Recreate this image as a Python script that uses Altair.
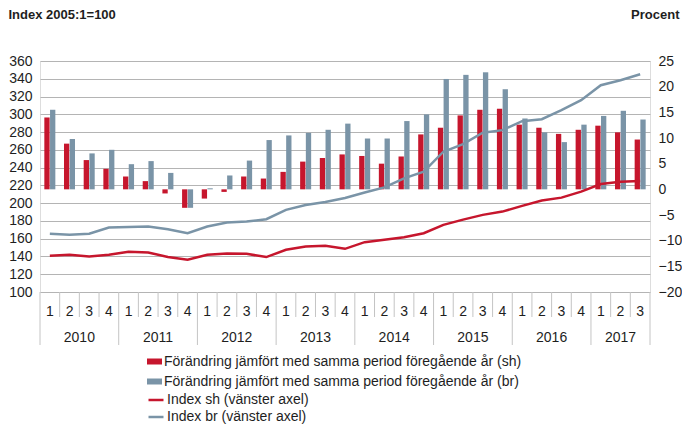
import altair as alt
import pandas as pd

# ---------------- data ----------------
years = ["2010", "2011", "2012", "2013", "2014", "2015", "2016", "2017"]
quarters_per_year = [4, 4, 4, 4, 4, 4, 4, 3]
quarter_labels = ["1", "2", "3", "4"] * 7 + ["1", "2", "3"]

# percent change vs same period previous year (right axis)
sh_change = [14.0, 8.9, 5.7, 4.0, 2.5, 1.6, -0.8, -3.6, -1.8, -0.5, 2.5, 2.1,
             3.4, 5.4, 6.1, 6.8, 6.5, 5.0, 6.4, 10.7, 12.0, 14.4, 15.5, 15.7,
             12.6, 12.0, 10.8, 11.6, 12.4, 11.1, 9.7]
br_change = [15.5, 9.8, 7.0, 7.7, 4.9, 5.5, 3.2, -3.6, 0.2, 2.7, 5.6, 9.6,
             10.5, 11.0, 11.6, 12.8, 9.9, 9.9, 13.3, 14.6, 21.5, 22.3, 22.8, 19.5,
             13.8, 11.1, 9.2, 12.6, 14.3, 15.3, 13.6]

# index 2005:1=100 (left axis)
sh_index = [140.8, 141.9, 140.0, 141.9, 145.3, 144.5, 139.3, 136.3, 141.9, 143.4,
            143.0, 139.3, 147.5, 151.2, 152.0, 148.6, 156.1, 158.7, 161.7, 166.2,
            175.6, 181.5, 186.8, 190.5, 196.9, 202.9, 206.2, 213.0, 221.6, 224.2, 225.0]
br_index = [165.5, 164.3, 165.5, 172.6, 173.3, 173.7, 170.7, 166.2, 173.7, 178.2,
            179.3, 181.9, 192.4, 198.0, 201.4, 205.9, 211.9, 217.8, 227.9, 235.4,
            257.9, 266.5, 279.2, 282.2, 292.3, 294.5, 304.6, 315.9, 332.7, 338.3, 345.1]

SH_BAR = "Förändring jämfört med samma period föregående år (sh)"
BR_BAR = "Förändring jämfört med samma period föregående år (br)"
SH_LINE = "Index sh (vänster axel)"
BR_LINE = "Index br (vänster  axel)"

RED = "#C6162D"
BLUE = "#7A94A7"
FONT = "Liberation Sans"
TXT = "#1e1e1e"
SEP = "#c4c4c4"

n = len(quarter_labels)

# ---------------- tables ----------------
bars_df = pd.DataFrame(
    [{"i": i, "k": 0, "series": SH_BAR, "value": v} for i, v in enumerate(sh_change)]
    + [{"i": i, "k": 1, "series": BR_BAR, "value": v} for i, v in enumerate(br_change)]
)
lines_df = pd.DataFrame(
    [{"i": i, "series": SH_LINE, "value": v} for i, v in enumerate(sh_index)]
    + [{"i": i, "series": BR_LINE, "value": v} for i, v in enumerate(br_index)]
)
q_df = pd.DataFrame({"i": list(range(n)), "q": quarter_labels})
starts = [sum(quarters_per_year[:k]) for k in range(len(years))]
y_df = pd.DataFrame({"year": years, "start": starts, "nq": quarters_per_year})
year_bounds = set(starts + [n])
short_df = pd.DataFrame({"b": [b for b in range(n + 1) if b not in year_bounds]})
long_df = pd.DataFrame({"b": sorted(year_bounds)})

W, H = 610, 231
xscale = alt.Scale(domain=[0, n], nice=False, zero=False)

bars = alt.Chart(bars_df).transform_calculate(
    x0="datum.i + 0.22 + 0.29 * datum.k",
    x1="datum.i + 0.49 + 0.29 * datum.k",
).mark_bar().encode(
    x=alt.X("x0:Q", scale=xscale, axis=None),
    x2="x1:Q",
    y=alt.Y("value:Q",
            scale=alt.Scale(domain=[-20, 25], nice=False, zero=False),
            axis=alt.Axis(orient="right", values=list(range(-20, 30, 5)), grid=False,
                          ticks=False, domain=False, labelPadding=8, labelFontSize=14,
                          labelFont=FONT, labelColor=TXT,
                          title="Procent", titleAngle=0, titleAlign="right",
                          titleBaseline="alphabetic", titleX=29, titleY=-43,
                          titleFont=FONT, titleFontSize=13, titleFontWeight="bold",
                          titleColor=TXT)),
    y2=alt.datum(0),
    color=alt.Color("series:N",
                    scale=alt.Scale(domain=[SH_BAR, BR_BAR], range=[RED, BLUE]),
                    legend=alt.Legend(title=None, orient="none", legendX=107, legendY=293,
                                      symbolType="M-1,-0.4H1V0.4H-1Z", symbolSize=225,
                                      symbolStrokeWidth=0, symbolOpacity=1,
                                      labelFont=FONT, labelFontSize=14, labelColor=TXT,
                                      labelLimit=700, labelOffset=2, rowPadding=5,
                                      padding=0)),
)

lines = alt.Chart(lines_df).transform_calculate(
    xc="datum.i + 0.5"
).mark_line(strokeWidth=2.5).encode(
    x=alt.X("xc:Q", scale=xscale, axis=None),
    y=alt.Y("value:Q",
            scale=alt.Scale(domain=[100, 360], nice=False, zero=False),
            axis=alt.Axis(orient="left", values=list(range(100, 380, 20)), grid=True,
                          gridColor="#b4b4b4", gridWidth=1, ticks=False, domain=False,
                          labelPadding=8, labelFontSize=14, labelFont=FONT, labelColor=TXT,
                          title="Index 2005:1=100", titleAngle=0, titleAlign="left",
                          titleBaseline="alphabetic", titleX=-32, titleY=-43,
                          titleFont=FONT, titleFontSize=13, titleFontWeight="bold",
                          titleColor=TXT)),
    stroke=alt.Stroke("series:N",
                      scale=alt.Scale(domain=[SH_LINE, BR_LINE], range=[RED, BLUE]),
                      legend=alt.Legend(title=None, orient="none", legendX=107, legendY=330,
                                        symbolType="stroke", symbolSize=225,
                                        symbolStrokeWidth=2.5,
                                        labelFont=FONT, labelFontSize=14, labelColor=TXT,
                                        labelLimit=700, labelOffset=2, rowPadding=1,
                                        padding=0)),
)

short_sep = alt.Chart(short_df).mark_rule(color=SEP, strokeWidth=1).encode(
    x=alt.X("b:Q", scale=xscale, axis=None), y=alt.value(H), y2=alt.value(256)
)
long_sep = alt.Chart(long_df).mark_rule(color=SEP, strokeWidth=1).encode(
    x=alt.X("b:Q", scale=xscale, axis=None), y=alt.value(H), y2=alt.value(284)
)
q_text = alt.Chart(q_df).transform_calculate(xc="datum.i + 0.5").mark_text(
    font=FONT, fontSize=14, color=TXT, baseline="middle", align="center"
).encode(x=alt.X("xc:Q", scale=xscale, axis=None), y=alt.value(251), text="q:N")
y_text = alt.Chart(y_df).transform_calculate(xc="datum.start + datum.nq / 2").mark_text(
    font=FONT, fontSize=14, color=TXT, baseline="middle", align="center"
).encode(x=alt.X("xc:Q", scale=xscale, axis=None), y=alt.value(277), text="year:N")

chart = alt.layer(bars, lines, short_sep, long_sep, q_text, y_text).resolve_scale(
    y="independent", color="independent", stroke="independent"
).properties(
    width=W, height=H,
    autosize=alt.AutoSizeParams(type="none"),
    padding={"left": 32, "top": 53, "right": 32, "bottom": 133},
).configure_view(stroke=None).configure(background="white")

chart.save("out.html", embed_options={"renderer": "svg", "actions": False})
